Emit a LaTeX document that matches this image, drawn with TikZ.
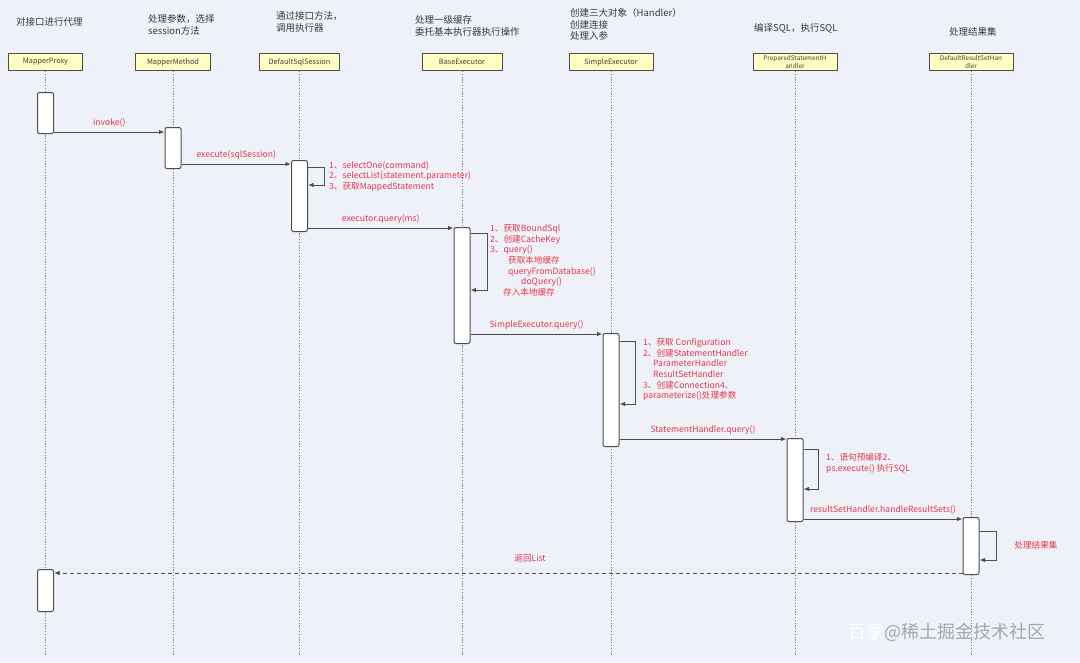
\documentclass[tikz,border=0pt]{standalone}
\usepackage{fontspec}
\setmainfont{Noto Sans CJK SC}
\usetikzlibrary{arrows.meta, calc}

\definecolor{bgblue}{RGB}{238,242,248}
\definecolor{msgred}{RGB}{232,52,72}
\definecolor{headfill}{RGB}{255,255,196}
\definecolor{linegray}{RGB}{78,78,78}
\definecolor{notegray}{RGB}{55,55,55}

\begin{document}
\begin{tikzpicture}[x=1pt, y=-1pt,
  head/.style={draw=linegray, fill=headfill, line width=1pt, minimum height=17pt,
    inner sep=1pt, text=black!75, font=\fontsize{7.3}{8}\selectfont},
  act/.style={draw=linegray, fill=white, line width=1pt, rounded corners=2pt,
    minimum width=16pt, inner sep=0pt},
  lifeline/.style={draw=gray, line width=0.9pt, dash pattern=on 1.2pt off 1.6pt},
  msg/.style={draw=linegray, line width=1pt, -{Latex[length=5.5pt,width=4.5pt]}},
  ret/.style={msg, dash pattern=on 4pt off 3pt},
  lbl/.style={text=msgred, font=\fontsize{8.6}{10.7}\selectfont, inner sep=0pt},
  note/.style={text=notegray, font=\fontsize{9.5}{12.5}\selectfont, align=left, inner sep=0pt},
]
  \fill[bgblue] (0,0) rectangle (1080,662);
  \useasboundingbox (0,0) rectangle (1080,662);

  % 头部说明
  \node[note, anchor=west]       (n1) at (16,22)  {对接口进行代理};
  \node[note, anchor=north west] (n2) at (148,14) {处理参数，选择\\session方法};
  \node[note, anchor=north west] (n3) at (276,11) {通过接口方法，\\调用执行器};
  \node[note, anchor=north west] (n4) at (415,15) {处理一级缓存\\委托基本执行器执行操作};
  \node[note, anchor=north west, font=\fontsize{9.5}{11.7}\selectfont]
                                 (n5) at (570,8)  {创建三大对象（Handler）\\创建连接\\处理入参};
  \node[note, anchor=west]       (n6) at (754,28) {编译SQL，执行SQL};
  \node[note, anchor=west]       (n7) at (949,32) {处理结果集};

  % 对象
  \foreach \n/\x/\w/\txt in {mp/45.5/74/MapperProxy, mm/173/75/MapperMethod,
      dss/299.5/80/DefaultSqlSession, be/462/80/BaseExecutor, se/611/84/SimpleExecutor}
    \node[head, minimum width=\w pt] (\n) at (\x,62) {\txt};
  \node[head, minimum width=84pt, align=center, font=\fontsize{6.4}{8}\selectfont]
    (psh) at (795,62) {PreparedStatementH\\andler};
  \node[head, minimum width=84pt, align=center, font=\fontsize{6.4}{8}\selectfont]
    (drsh) at (971,62) {DefaultResultSetHan\\dler};

  \foreach \h in {mp,mm,dss,be,se,psh,drsh}
    \draw[lifeline] (\h.south) -- (\h.south |- 0,655);

  % 激活条
  \foreach \n/\h/\t/\b in {a1/mp/92/133, a2/mm/127/168, a3/dss/160/231, a4/be/227/343,
      a5/se/333/446, a6/psh/438/521, a7/drsh/517/574, a8/mp/569/611}
    \node[act, anchor=north, minimum height=\b pt-\t pt] (\n) at (\h.south |- 0,\t) {};

  % 消息
  \draw[msg] (a1.east |- 0,132) -- node[lbl, above=4pt] (m1) {invoke()} (a2.west |- 0,132);
  \draw[msg] (a2.east |- 0,164) -- node[lbl, above=4pt] (m2) {execute(sqlSession)} (a3.west |- 0,164);
  \draw[msg] (a3.east |- 0,228) -- node[lbl, above=4pt] (m3) {executor.query(ms)} (a4.west |- 0,228);
  \draw[msg] (a4.east |- 0,334) -- node[lbl, above=4pt] (m4) {SimpleExecutor.query()} (a5.west |- 0,334);
  \draw[msg] (a5.east |- 0,439) -- node[lbl, above=4pt] (m5) {StatementHandler.query()} (a6.west |- 0,439);
  \draw[msg] (a6.east |- 0,519) -- node[lbl, above=4pt] (m6) {resultSetHandler.handleResultSets()} (a7.west |- 0,519);
  \draw[ret] (a7.west |- 0,573) -- node[lbl, above=10pt, pos=0.476] (m7) {返回List} (a8.east |- 0,573);

  % 自调用
  \draw[msg] (a3.east |- 0,167) -- ++(16,0) |- (a3.east |- 0,185);
  \draw[msg] (a4.east |- 0,233) -- ++(17,0) |- (a4.east |- 0,290);
  \draw[msg] (a5.east |- 0,341) -- ++(16,0) |- (a5.east |- 0,404);
  \draw[msg] (a6.east |- 0,449) -- ++(15,0) |- (a6.east |- 0,489);
  \draw[msg] (a7.east |- 0,531) -- ++(17,0) |- (a7.east |- 0,560);

  \node[lbl, align=left, anchor=north west] (s3) at (329,161)
    {1、selectOne(command)\\2、selectList(statement.parameter)\\3、获取MappedStatement};
  \node[lbl, align=left, anchor=north west] (s4) at (490,224)
    {1、获取BoundSql\\2、创建CacheKey\\3、query()\\\hspace*{18pt}获取本地缓存\\
     \hspace*{18pt}queryFromDatabase()\\\hspace*{31pt}doQuery()\\\hspace*{13pt}存入本地缓存};
  \node[lbl, align=left, anchor=north west] (s5) at (643,338)
    {1、获取 Configuration\\2、创建StatementHandler\\\hspace*{10pt}ParameterHandler\\
     \hspace*{10pt}ResultSetHandler\\3、创建Connection4、\\parameterize()处理参数};
  \node[lbl, align=left, anchor=north west] (s6) at (826,453)
    {1、语句预编译2、\\ps.execute() 执行SQL};
  \node[lbl] (s7) at (1036,545) {处理结果集};

  % 水印
  \node[anchor=west, inner sep=0pt, text=gray!70, font=\fontsize{18}{20}\selectfont]
    (wm) at (848,632) {\textcolor{white}{百家}@稀土掘金技术社区};
\end{tikzpicture}
\end{document}
